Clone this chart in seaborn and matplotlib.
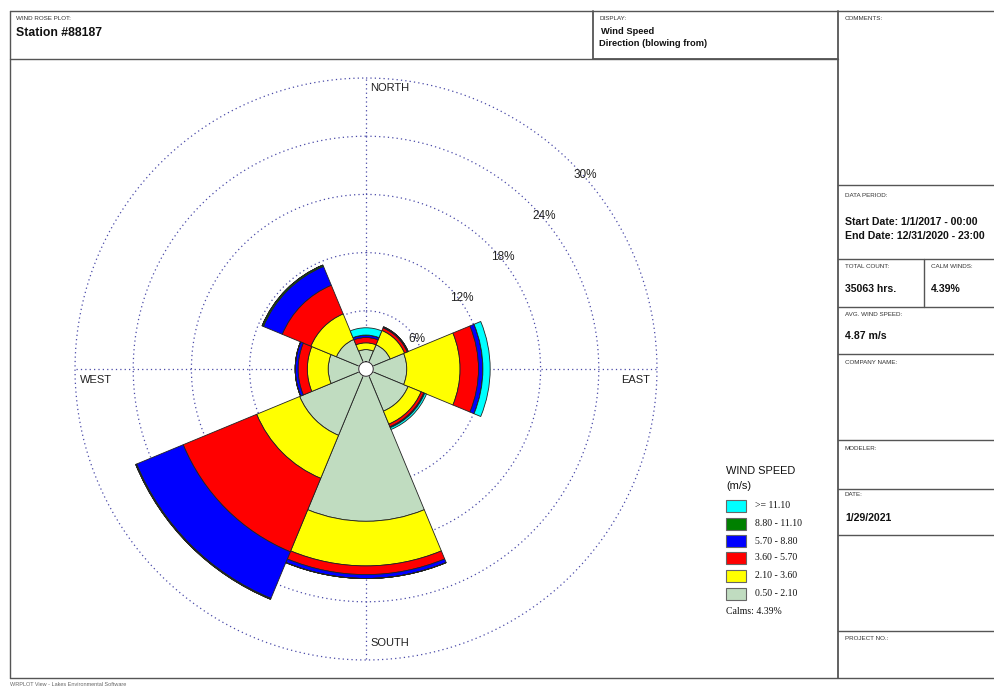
import numpy as np
import pandas as pd
import matplotlib
matplotlib.use("Agg")
import matplotlib.pyplot as plt
import seaborn as sns
from matplotlib.lines import Line2D
from matplotlib.patches import Rectangle

# wind rose data (% of hours), 8 directions, blowing from
directions = ["N", "NE", "E", "SE", "S", "SW", "W", "NW"]
dir_deg = [0, 45, 90, 135, 180, 225, 270, 315]
speed_bins = ["0.50 - 2.10", "2.10 - 3.60", "3.60 - 5.70", "5.70 - 8.80", "8.80 - 11.10", ">= 11.10"]
bin_colors = ["#c0dcc0", "#ffff00", "#ff0000", "#0000ff", "#008000", "#00ffff"]

freq_0_5_2_1 = [2.0, 2.7, 4.2, 4.7, 15.7, 7.4, 3.9, 3.3]
freq_2_1_3_6 = [0.7, 1.6, 5.5, 1.45, 4.6, 4.8, 2.15, 2.85]
freq_3_6_5_7 = [0.55, 0.3, 1.9, 0.3, 0.9, 8.2, 0.95, 3.2]
freq_5_7_8_8 = [0.25, 0.1, 0.45, 0.1, 0.4, 5.2, 0.3, 2.1]
freq_8_8_11_1 = [0.0, 0.0, 0.0, 0.0, 0.0, 0.1, 0.0, 0.15]
freq_ge_11_1 = [0.75, 0.0, 0.75, 0.2, 0.0, 0.0, 0.0, 0.0]

ring_levels = [6, 12, 18, 24, 30]
calms = 4.39

df = pd.DataFrame({
    "direction": directions,
    "deg": dir_deg,
    speed_bins[0]: freq_0_5_2_1,
    speed_bins[1]: freq_2_1_3_6,
    speed_bins[2]: freq_3_6_5_7,
    speed_bins[3]: freq_5_7_8_8,
    speed_bins[4]: freq_8_8_11_1,
    speed_bins[5]: freq_ge_11_1,
})

sns.set_style("white")
plt.rcParams["font.family"] = ["Liberation Sans", "DejaVu Sans"]

W, H = 995, 686
fig = plt.figure(figsize=(W / 100, H / 100), dpi=100)


def px(x, y):
    return x / W, 1 - y / H


# polar axes: center (366, 369), 9.7 px per percent
cx, cy, scale, rlim = 366, 369, 291 / 30, 31
R = rlim * scale
ax = fig.add_axes([(cx - R) / W, (H - cy - R) / H, 2 * R / W, 2 * R / H], projection="polar")
ax.set_theta_zero_location("N")
ax.set_theta_direction(-1)
ax.set_ylim(0, rlim)
ax.axis("off")

grid_col = "#4a4aa8"
th = np.linspace(0, 2 * np.pi, 361)
for lv in ring_levels:
    ax.plot(th, np.full_like(th, lv), color=grid_col, lw=0.9, ls=(0, (1, 2.5)), zorder=1)
for a in [0, 90, 180, 270]:
    ax.plot([np.radians(a)] * 2, [0, 30], color=grid_col, lw=0.9, ls=(0, (1, 2.5)), zorder=1)

width = np.radians(45)
bottom = np.zeros(len(df))
theta = np.radians(df["deg"].values)
for b, c in zip(speed_bins, bin_colors):
    vals = df[b].values
    ax.bar(theta, vals, width=width, bottom=bottom, color=c, edgecolor="#222222",
           linewidth=0.6, zorder=3)
    bottom = bottom + vals

# calm circle
ax.fill(th, np.full_like(th, 0.75), color="white", zorder=4)
ax.plot(th, np.full_like(th, 0.75), color="#222222", lw=0.7, zorder=5)

for lv in ring_levels:
    ax.annotate(f"{lv}%", xy=(np.radians(45), lv), xytext=(1, -4), textcoords="offset points",
                ha="left", va="top", fontsize=8.5, color="#222222", zorder=6)

ax.annotate("NORTH", xy=(0, 29.0), xytext=(3, 0), textcoords="offset points",
            ha="left", va="center", fontsize=8, color="#222222")
ax.annotate("SOUTH", xy=(np.pi, 28.25), xytext=(3, 0), textcoords="offset points",
            ha="left", va="center", fontsize=8, color="#222222")
ax.annotate("EAST", xy=(np.pi / 2, 29.3), xytext=(0, -8), textcoords="offset points",
            ha="right", va="center", fontsize=8, color="#222222")
ax.annotate("WEST", xy=(3 * np.pi / 2, 29.5), xytext=(0, -8), textcoords="offset points",
            ha="left", va="center", fontsize=8, color="#222222")

# page frame
line_col = "#555555"


def hline(y, x0, x1, lw=1.0):
    fig.add_artist(Line2D([x0 / W, x1 / W], [1 - y / H] * 2, color=line_col, lw=lw))


def vline(x, y0, y1, lw=1.0):
    fig.add_artist(Line2D([x / W] * 2, [1 - y0 / H, 1 - y1 / H], color=line_col, lw=lw))


hline(11, 10, 995)
hline(59, 10, 838)
hline(678, 10, 995)
vline(10, 11, 678)
vline(593, 11, 59, lw=1.3)
vline(838, 11, 678, lw=1.3)
hline(59, 593, 838, lw=1.3)
for y in [185, 259, 307, 354, 440, 489, 535, 631]:
    hline(y, 838, 995)
vline(924, 259, 307)


def label(x, y, s, size=4.5, bold=False, color="#333333", family=None):
    kw = {}
    if family:
        kw["family"] = family
    fig.text(*px(x, y), s, fontsize=size, fontweight="bold" if bold else "normal",
             color=color, ha="left", va="center", **kw)


label(16, 18, "WIND ROSE PLOT:")
label(16, 33, "Station #88187", size=8.8, bold=True, color="#111111")
label(599, 18, "DISPLAY:")
label(601, 31, "Wind Speed", size=6.7, bold=True, color="#111111")
label(599, 43, "Direction (blowing from)", size=6.7, bold=True, color="#111111")

label(845, 18, "COMMENTS:")
label(845, 195, "DATA PERIOD:")
label(845, 222, "Start Date: 1/1/2017 - 00:00", size=7.6, bold=True, color="#111111")
label(845, 236, "End Date: 12/31/2020 - 23:00", size=7.6, bold=True, color="#111111")
label(845, 267, "TOTAL COUNT:")
label(931, 267, "CALM WINDS:")
label(845, 289, "35063 hrs.", size=7.6, bold=True, color="#111111")
label(931, 289, "4.39%", size=7.6, bold=True, color="#111111")
label(845, 314, "AVG. WIND SPEED:")
label(845, 336, "4.87 m/s", size=7.6, bold=True, color="#111111")
label(845, 362, "COMPANY NAME:")
label(845, 448, "MODELER:")
label(845, 495, "DATE:")
label(845, 518, "1/29/2021", size=7.6, bold=True, color="#111111")
label(845, 638, "PROJECT NO.:")
label(10, 684, "WRPLOT View - Lakes Environmental Software", size=4, color="#666666")

# legend
label(726, 471, "WIND SPEED", size=7.9, color="#111111")
label(726, 486, "(m/s)", size=7.9, color="#111111")
leg_y = [506, 524, 541, 558, 576, 594]
for yy, b, c in zip(leg_y, speed_bins[::-1], bin_colors[::-1]):
    x0, y0 = px(726, yy + 6)
    fig.add_artist(Rectangle((x0, y0), 20 / W, 12 / H, facecolor=c, edgecolor="#666666",
                             lw=0.8, transform=fig.transFigure))
    label(755, yy, b, size=7, color="#111111", family="Liberation Serif")
label(726, 612, f"Calms: {calms:.2f}%", size=7, color="#111111", family="Liberation Serif")

fig.savefig("out.png", dpi=100)
